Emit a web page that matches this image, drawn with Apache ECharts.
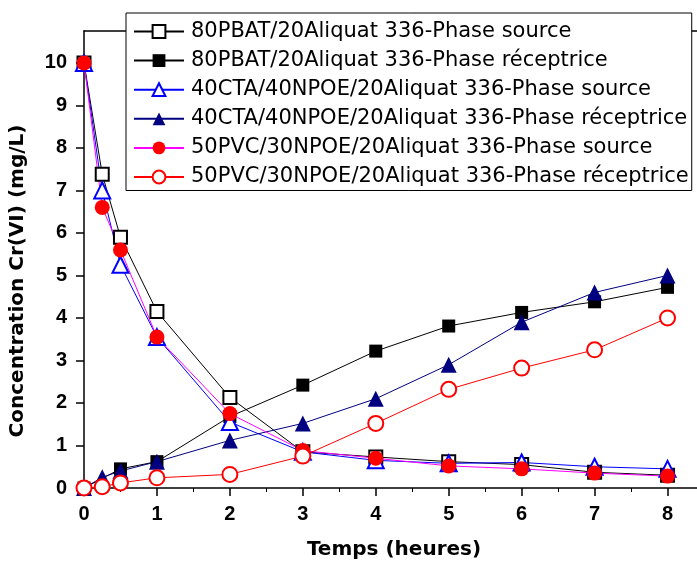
<!DOCTYPE html>
<html>
<head>
<meta charset="utf-8">
<script src="https://cdn.jsdelivr.net/npm/echarts@6/dist/echarts.min.js"></script>
<style>
  html, body { margin: 0; padding: 0; background: #fff; }
  #chart { width: 697px; height: 565px; }
</style>
</head>
<body>
<div id="chart"></div>
<script>
'use strict';

/* ── Data (Cr(VI) concentration, mg/L vs time, h) ── */
const times = [0, 0.25, 0.5, 1, 2, 3, 4, 5, 6, 7, 8];

const pbatSource    = [10, 7.38, 5.9, 4.15, 2.13, 0.85, 0.73, 0.62, 0.55, 0.37, 0.3];
const pbatRecept    = [0, null, 0.45, 0.62, 1.68, 2.42, 3.22, 3.81, 4.13, 4.38, 4.72];
const ctaSource     = [10, 7.0, 5.25, 3.55, 1.55, 0.85, 0.65, 0.58, 0.6, 0.5, 0.45];
const ctaRecept     = [0, 0.25, 0.4, 0.62, 1.12, 1.52, 2.1, 2.9, 3.9, 4.6, 5.0];
const pvcSource     = [10, 6.6, 5.6, 3.55, 1.75, 0.88, 0.7, 0.52, 0.45, 0.35, 0.28];
const pvcRecept     = [0, 0.03, 0.12, 0.24, 0.32, 0.75, 1.52, 2.32, 2.82, 3.25, 4.0];

const seriesNames = [
  '80PBAT/20Aliquat 336-Phase source',
  '80PBAT/20Aliquat 336-Phase réceptrice',
  '40CTA/40NPOE/20Aliquat 336-Phase source',
  '40CTA/40NPOE/20Aliquat 336-Phase réceptrice',
  '50PVC/30NPOE/20Aliquat 336-Phase source',
  '50PVC/30NPOE/20Aliquat 336-Phase réceptrice'
];

const xTicks = [0, 1, 2, 3, 4, 5, 6, 7, 8];
const xMinorTicks = [0.5, 1.5, 2.5, 3.5, 4.5, 5.5, 6.5, 7.5];
const yTicks = [0, 1, 2, 3, 4, 5, 6, 7, 8, 9, 10];

const FONT = "'DejaVu Sans', sans-serif";
const NUM_FONT = "'Liberation Sans', Arial, sans-serif";

function pairs(vals) {
  return times.map((t, i) => [t, vals[i]]).filter(p => p[1] != null);
}

function mkSeries(name, vals, symbol, size, color, lineColor, empty) {
  return {
    name: name,
    type: 'line',
    data: pairs(vals),
    symbol: symbol,
    symbolSize: size,
    showAllSymbol: true,
    lineStyle: { color: lineColor || color, width: 1 },
    itemStyle: empty
      ? { color: color, borderColor: color, borderWidth: 1 }
      : { color: color, borderWidth: 0 },
    emphasis: { disabled: true },
    animation: false
  };
}

const chart = echarts.init(document.getElementById('chart'), null, { renderer: 'canvas' });

const axisCommon = {
  axisLine: { lineStyle: { color: '#000', width: 1.5 } },
  axisTick: { inside: false, length: 8, lineStyle: { color: '#000', width: 1.5 } },
  axisLabel: { color: '#000', fontFamily: NUM_FONT, fontWeight: 'bold', fontSize: 20 },
  splitLine: { show: false }
};

chart.setOption({
  backgroundColor: '#fff',
  animation: false,
  textStyle: { fontFamily: FONT },
  grid: {
    left: 84, top: 31, width: 620, bottom: 77,
    outerBoundsMode: 'none',
    containLabel: false
  },
  legend: {
    orient: 'vertical',
    left: 126, top: 13,
    backgroundColor: '#fff',
    borderColor: '#000',
    borderWidth: 1,
    padding: [8, 3, 3, 7],
    itemWidth: 50,
    itemHeight: 16,
    itemGap: 8.1,
    textStyle: { color: '#000', fontFamily: FONT, fontSize: 21, lineHeight: 21, padding: [0, 0, 0, 2] },
    data: seriesNames
  },
  xAxis: [
    {
      type: 'value', min: 0, max: 8.5,
      ...axisCommon,
      axisTick: { ...axisCommon.axisTick, customValues: xTicks },
      axisLabel: { ...axisCommon.axisLabel, margin: 16, customValues: xTicks },
      name: 'Temps (heures)',
      nameLocation: 'middle',
      nameGap: 52,
      nameTextStyle: { color: '#000', fontFamily: FONT, fontWeight: 'bold', fontSize: 20 }
    },
    {
      type: 'value', min: 0, max: 8.5, position: 'bottom',
      axisLine: { show: false },
      axisTick: { length: 4, lineStyle: { color: '#000', width: 1 }, customValues: xMinorTicks },
      axisLabel: { show: false },
      splitLine: { show: false }
    },
    {
      // top frame line
      type: 'value', min: 0, max: 8.5, position: 'top',
      axisLine: { show: true, lineStyle: { color: '#000', width: 1.5 } },
      axisTick: { show: false },
      axisLabel: { show: false },
      splitLine: { show: false }
    }
  ],
  yAxis: {
    type: 'value', min: 0, max: 10.75,
    ...axisCommon,
    axisTick: { ...axisCommon.axisTick, customValues: yTicks },
    axisLabel: { ...axisCommon.axisLabel, margin: 17, customValues: yTicks }
  },
  graphic: [{
    type: 'text',
    x: 18, y: 281,
    rotation: Math.PI / 2,
    style: {
      text: 'Concentration Cr(VI) (mg/L)',
      fill: '#000',
      font: "bold 20px 'DejaVu Sans', sans-serif",
      align: 'center',
      verticalAlign: 'middle'
    }
  }],
  series: [
    mkSeries(seriesNames[0], pbatSource, 'emptyRect', 13, '#000', null, true),
    mkSeries(seriesNames[1], pbatRecept, 'rect', 13, '#000'),
    mkSeries(seriesNames[2], ctaSource, 'emptyTriangle', 16, '#0000ff', null, true),
    mkSeries(seriesNames[3], ctaRecept, 'triangle', 16, '#000080'),
    mkSeries(seriesNames[4], pvcSource, 'circle', 15, '#ff0000', '#ff00ff'),
    mkSeries(seriesNames[5], pvcRecept, 'emptyCircle', 15, '#ff0000', null, true)
  ]
});

window.addEventListener('resize', () => chart.resize());
</script>
</body>
</html>
